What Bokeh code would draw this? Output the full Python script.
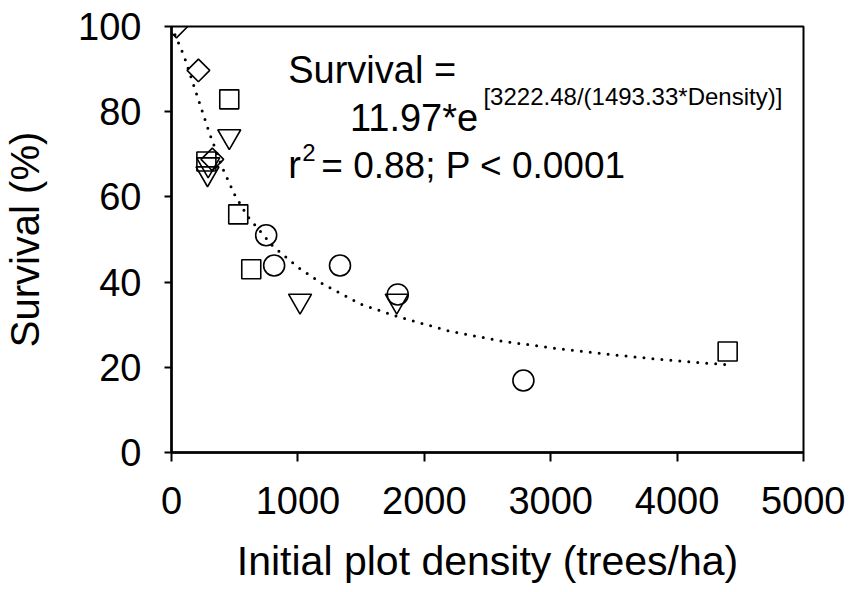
from bokeh.plotting import figure
from bokeh.models import Range1d, Label, FixedTicker
from bokeh.embed import file_html
from bokeh.resources import INLINE
import math

# ---- data ----
diamond_density = [39, 213, 323]
diamond_survival = [100, 89.7, 68.8]
square_density = [457, 276, 528, 631, 4400]
square_survival = [82.9, 68.3, 55.9, 43.0, 23.7]
triangle_density = [457, 290, 285, 1017, 1782]
triangle_survival = [74.2, 67.6, 65.5, 35.6, 35.6]
circle_density = [749, 812, 1333, 1790, 2784]
circle_survival = [51.0, 43.9, 43.9, 37.1, 16.9]

fit_density = [0, 100, 200, 300, 400, 500, 600, 800, 1000, 1200, 1500,
               1800, 2200, 2600, 3000, 3500, 4000, 4400]
fit_survival = [100, 93, 84, 75, 67, 60.5, 55.5, 48.5, 43.5, 39.5, 34.8,
                31.8, 28.5, 26.2, 24.6, 22.9, 21.5, 20.6]

x_ticks = [0, 1000, 2000, 3000, 4000, 5000]
y_ticks = [0, 20, 40, 60, 80, 100]

FONT = "Liberation Sans"

p = figure(width=845, height=589, output_backend="svg", toolbar_location=None,
           x_range=Range1d(0, 5000), y_range=Range1d(0, 100),
           min_border_left=169, min_border_right=42, min_border_top=26,
           min_border_bottom=137)
p.background_fill_color = "white"
p.border_fill_color = "white"
p.xgrid.visible = False
p.ygrid.visible = False
p.outline_line_color = "black"
p.outline_line_width = 2
p.outline_line_alpha = 1

p.xaxis.ticker = FixedTicker(ticks=x_ticks)
p.yaxis.ticker = FixedTicker(ticks=y_ticks)
for ax in (p.xaxis, p.yaxis):
    ax.axis_line_color = "black"
    ax.axis_line_width = 2.5
    ax.major_tick_line_color = "black"
    ax.major_tick_line_width = 2
    ax.major_tick_in = 0
    ax.minor_tick_line_color = None
    ax.major_label_text_font = FONT
    ax.major_label_text_font_size = "38px"
    ax.major_label_text_color = "black"
    ax.axis_label_text_font = FONT
    ax.axis_label_text_font_size = "40px"
    ax.axis_label_text_font_style = "normal"
    ax.axis_label_text_color = "black"

p.xaxis.axis_label_text_font_size = "41px"
p.xaxis.major_tick_out = 9
p.yaxis.major_tick_out = 7
p.xaxis.major_label_standoff = 25
p.yaxis.major_label_standoff = 23
p.xaxis.axis_label = "Initial plot density (trees/ha)"
p.yaxis.axis_label = "Survival (%)"
p.xaxis.axis_label_standoff = 21
p.yaxis.axis_label_standoff = 28

# fitted curve (dotted)
p.line(fit_density, fit_survival, line_color="black", line_width=3,
       line_dash="0 9", line_cap="round")

# markers
p.scatter(diamond_density, diamond_survival, marker="square", size=16,
          angle=math.pi / 4, fill_color=None, line_color="black", line_width=1.6)
p.scatter(square_density, square_survival, marker="square", size=19,
          fill_color=None, line_color="black", line_width=1.6)
p.scatter(triangle_density, triangle_survival, marker="inverted_triangle", size=23,
          fill_color=None, line_color="black", line_width=1.6)
p.scatter(circle_density, circle_survival, marker="circle", size=21,
          fill_color=None, line_color="black", line_width=1.6)

# annotation
def lab(x, y, t, size):
    p.add_layout(Label(x=x, y=y, text=t, text_font=FONT, text_font_size=size,
                       text_color="black", text_baseline="alphabetic",
                       text_align="left"))

lab(923, 89.7, "Survival =", "38px")
lab(1412, 78.6, "11.97*e", "38px")
lab(2468, 83.6, "[3222.48/(1493.33*Density)]", "24px")
lab(923, 67.4, "r", "38px")
lab(1035, 70.4, "2", "24px")
lab(1185, 67.4, "= 0.88; P < 0.0001", "37px")

open("out.html", "w").write(file_html(p, INLINE))
